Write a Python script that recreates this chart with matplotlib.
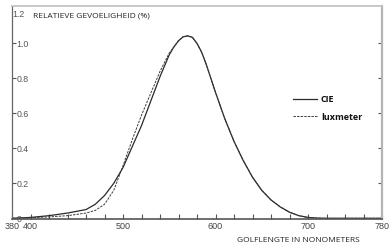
import matplotlib
matplotlib.use("Agg")
import matplotlib.pyplot as plt

# wavelengths (nm) and relative sensitivity
golflengte = [380, 400, 420, 440, 460, 470, 480, 490, 500, 510, 520, 530, 540,
              550, 555, 560, 565, 570, 575, 580, 585, 590, 600, 610, 620, 630,
              640, 650, 660, 670, 680, 690, 700, 710, 720, 740, 760, 780]
cie = [0.0, 0.005, 0.015, 0.03, 0.05, 0.08, 0.13, 0.2, 0.29, 0.41, 0.53, 0.67, 0.81,
       0.935, 0.98, 1.015, 1.038, 1.043, 1.035, 1.0, 0.95, 0.88, 0.72, 0.57, 0.44, 0.33,
       0.235, 0.16, 0.105, 0.065, 0.035, 0.015, 0.005, 0.001, 0.0, 0.0, 0.0, 0.0]
luxmeter = [0.0, 0.003, 0.008, 0.015, 0.03, 0.045, 0.08, 0.16, 0.30, 0.45, 0.59, 0.715, 0.84,
            0.945, 0.98, 1.015, 1.038, 1.043, 1.035, 1.0, 0.95, 0.88, 0.72, 0.57, 0.44, 0.33,
            0.235, 0.16, 0.105, 0.065, 0.035, 0.015, 0.005, 0.001, 0.0, 0.0, 0.0, 0.0]

x_ticks = list(range(380, 781, 20))
x_labels = {380: "380", 400: "400", 500: "500", 600: "600", 700: "700", 780: "780"}
y_ticks = [0, 0.2, 0.4, 0.6, 0.8, 1.0]
y_labels = ["0", "0.2", "0.4", "0.6", "0.8", "1.0"]

line_col = "#2a2a2a"
tick_col = "#555555"

fig = plt.figure(figsize=(3.9, 2.46), dpi=100)
ax = fig.add_axes([12 / 390, 1 - 219 / 246, 370 / 390, 213 / 246])

ax.plot(golflengte, cie, color=line_col, lw=0.9, label="CIE")
ax.plot(golflengte, luxmeter, color="#3a3a3a", lw=0.7, dashes=(2.5, 1.2), label="luxmeter")

ax.set_xlim(380, 780)
ax.set_ylim(-0.004, 1.214)

# spines: dark left/bottom, light grey top/right
ax.spines["left"].set_color("#666666")
ax.spines["left"].set_linewidth(0.9)
ax.spines["bottom"].set_color("#555555")
ax.spines["bottom"].set_linewidth(1.2)
ax.spines["top"].set_color("#c4c4c4")
ax.spines["top"].set_linewidth(1.3)
ax.spines["right"].set_color("#b4b4b4")
ax.spines["right"].set_linewidth(1.6)

ax.set_xticks(x_ticks)
ax.set_xticklabels([x_labels.get(t, "") for t in x_ticks])
ax.tick_params(axis="x", direction="in", length=3.8, width=0.8, color=tick_col,
               labelsize=6.5, labelcolor="#444444", pad=2.5)
for lab in ax.get_xticklabels():
    lab.set_fontfamily("Liberation Sans")

ax.set_yticks(y_ticks)
ax.set_yticklabels(y_labels)
ax.tick_params(axis="y", direction="in", length=3, width=0.8, color=tick_col,
               right=True, labelsize=6.3, labelcolor="#555555", pad=-3)
for lab in ax.get_yticklabels():
    lab.set_horizontalalignment("left")
    lab.set_fontfamily("Liberation Sans")

ax.text(380.6, 1.168, "1.2", fontsize=6.3, color="#555555", family="Liberation Sans",
        ha="left", va="center")
ax.text(403, 1.157, "RELATIEVE GEVOELIGHEID (%)", fontsize=6, color="#222222",
        family="Open Sans", ha="left", va="center")
fig.text(298 / 390, 1 - 241 / 246, "GOLFLENGTE IN NONOMETERS", fontsize=6,
         color="#222222", family="Open Sans", ha="center", va="center")

leg = ax.legend(loc="upper left", bbox_to_anchor=(0.737, 0.62), frameon=False,
                handlelength=2.7, handletextpad=0.4, labelspacing=0.95,
                prop={"family": "Open Sans", "weight": "bold", "size": 6.5})
for t in leg.get_texts():
    t.set_color("#111111")

fig.savefig("out.png", dpi=100)
